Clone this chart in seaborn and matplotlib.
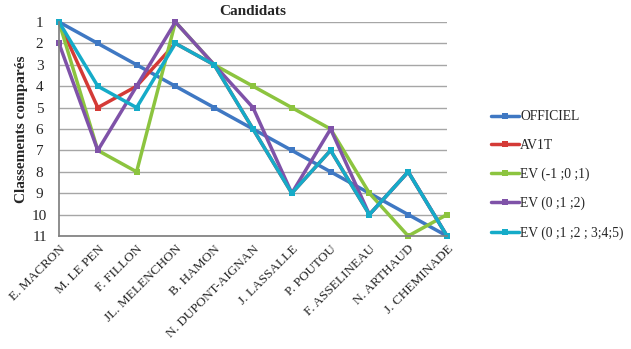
import matplotlib
matplotlib.use("Agg")
import matplotlib.pyplot as plt
import seaborn as sns
import pandas as pd

candidats = ["E. MACRON", "M. LE PEN", "F. FILLON", "JL. MELENCHON", "B. HAMON",
             "N. DUPONT-AIGNAN", "J. LASSALLE", "P. POUTOU", "F. ASSELINEAU",
             "N. ARTHAUD", "J. CHEMINADE"]
officiel = [1, 2, 3, 4, 5, 6, 7, 8, 9, 10, 11]
av1t = [1, 5, 4, 2, 3, 6, 9, 7, 10, 8, 11]
ev_m1_0_1 = [1, 7, 8, 1, 3, 4, 5, 6, 9, 11, 10]
ev_0_1_2 = [2, 7, 4, 1, 3, 5, 9, 6, 10, 8, 11]
ev_0_5 = [1, 4, 5, 2, 3, 6, 9, 7, 10, 8, 11]
series_names = ["OFFICIEL", "AV1T", "EV (-1 ;0 ;1)", "EV (0 ;1 ;2)", "EV (0 ;1 ;2 ; 3;4;5)"]
yticks = list(range(1, 12))

colors = ["#3F78C3", "#D43A36", "#8CC43F", "#7F52A8", "#15ABC8"]

rows = []
for name, vals in zip(series_names, [officiel, av1t, ev_m1_0_1, ev_0_1_2, ev_0_5]):
    for i, v in enumerate(vals):
        rows.append({"idx": i, "rank": v, "serie": name})
df = pd.DataFrame(rows)

sns.set_theme(style="white")
plt.rcParams["font.family"] = ["Liberation Serif", "DejaVu Serif"]

fig = plt.figure(figsize=(6.31, 3.49), dpi=100)
ax = fig.add_axes([59 / 631, 1 - 236 / 349, (447 - 59) / 631, (236 - 22) / 349])

sns.lineplot(data=df, x="idx", y="rank", hue="serie", hue_order=series_names,
             palette=colors, marker="s", markersize=5, markeredgewidth=0,
             linewidth=2.5, dashes=False, ax=ax, legend=False)
for ln in ax.lines:
    ln.set_clip_on(False)

ax.set_xlim(0, 10)
ax.set_ylim(11, 1)
ax.set_yticks(yticks)
ax.set_yticklabels([str(t) for t in yticks], fontsize=11)
ax.set_xticks(range(len(candidats)))
ax.set_xticklabels(candidats, rotation=45, ha="right", rotation_mode="anchor", fontsize=9.5)
ax.tick_params(axis="y", length=0, pad=14)
ax.tick_params(axis="x", length=0, pad=5)
for lbl in ax.get_yticklabels():
    lbl.set_horizontalalignment("center")
ax.grid(axis="y", color="#A6A6A6", linewidth=1)
ax.set_axisbelow(True)
for s in ["top", "right"]:
    ax.spines[s].set_visible(False)
ax.spines["left"].set_color("#808080")
ax.spines["bottom"].set_color("#808080")
ax.set_xlabel("")
ax.set_ylabel("Classements comparés", fontsize=11, fontweight="bold", labelpad=3)
ax.set_title("Candidats", fontsize=11, fontweight="bold", pad=5, x=0.5)

from matplotlib.lines import Line2D
handles = [Line2D([0], [0], color=c, lw=2.5, marker="s", markersize=5, markeredgewidth=0)
           for c in colors]
fig.legend(handles, series_names, loc="upper left", bbox_to_anchor=(486 / 631, 1 - 105 / 349),
           frameon=False, fontsize=9.8, handlelength=2.0, handletextpad=0.1,
           labelspacing=1.15, borderaxespad=0)

fig.savefig("out.png", dpi=100)
